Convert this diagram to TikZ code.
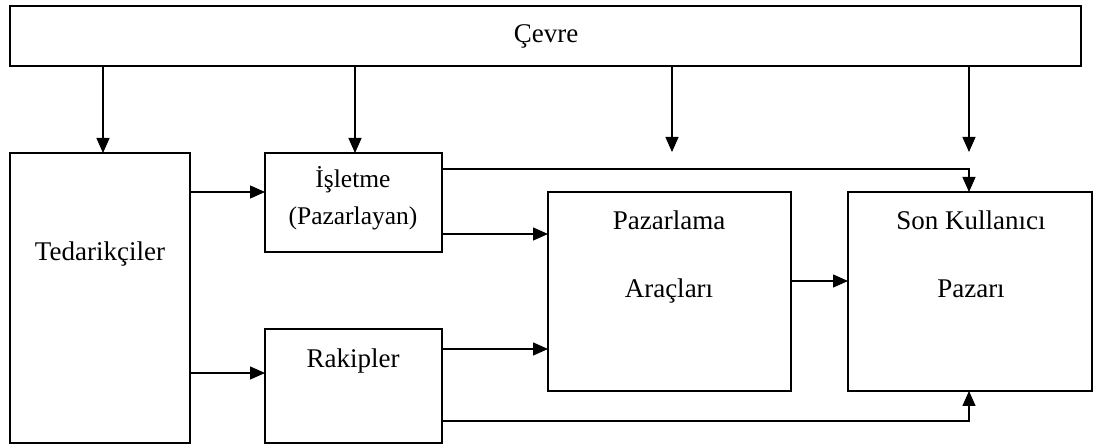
\documentclass[tikz,border=0pt]{standalone}
\usepackage{fontspec}
\setmainfont{Liberation Serif}
\usetikzlibrary{arrows.meta}
\begin{document}
\begin{tikzpicture}[x=1pt,y=-1pt,
  box/.style={draw, line width=1.4pt, inner sep=0pt, outer sep=0pt, anchor=north west},
  lbl/.style={inner sep=0pt, anchor=base, font=\fontsize{27}{32}\selectfont},
  lblsm/.style={inner sep=0pt, anchor=base, font=\fontsize{25.5}{30}\selectfont},
  arr/.style={line width=1.4pt, -{Triangle[length=15pt,width=13pt]}}]
\useasboundingbox (0,0) rectangle (1096,446);

% boxes
\node[box, minimum width=1071pt, minimum height=60pt] (cevre) at (10,6) {};
\node[box, minimum width=180pt, minimum height=290pt] (ted) at (10,153) {};
\node[box, minimum width=177pt, minimum height=99pt] (isl) at (265,153) {};
\node[box, minimum width=177pt, minimum height=114pt] (rak) at (265,329) {};
\node[box, minimum width=243pt, minimum height=199pt] (paz) at (548,192) {};
\node[box, minimum width=244pt, minimum height=199pt] (son) at (848,192) {};

% labels
\node[lbl] (tcevre) at (546,43) {Çevre};
\node[lbl] (tted) at (100,261) {Tedarikçiler};
\node[lblsm] (tisl1) at (353,188) {İşletme};
\node[lblsm] (tisl2) at (353,225) {(Pazarlayan)};
\node[lbl] (trak) at (353,368) {Rakipler};
\node[lbl] (tpaz1) at (669,230) {Pazarlama};
\node[lbl] (tpaz2) at (669,298) {Araçları};
\node[lbl] (tson1) at (971,230) {Son Kullanıcı};
\node[lbl] (tson2) at (971,298) {Pazarı};

% guide coordinates for the connectors
\coordinate (c1) at (103,0);
\coordinate (c2) at (355,0);
\coordinate (c3) at (672,152);
\coordinate (c4) at (969,152);
\coordinate (cx) at (969,0);
\coordinate (y1) at (0,192);
\coordinate (y2) at (0,373);
\coordinate (y3) at (0,234);
\coordinate (y4) at (0,349);
\coordinate (y5) at (0,169);
\coordinate (y6) at (0,421);
\coordinate (y7) at (0,281);

% environment arrows
\draw[arr] (cevre.south -| c1) -- (ted.north -| c1);
\draw[arr] (cevre.south -| c2) -- (isl.north -| c2);
\draw[arr] (cevre.south -| c3) -- (c3);
\draw[arr] (cevre.south -| c4) -- (c4);

% flows between the boxes
\draw[arr] (ted.east |- y1) -- (isl.west |- y1);
\draw[arr] (ted.east |- y2) -- (rak.west |- y2);
\draw[arr] (isl.east |- y3) -- (paz.west |- y3);
\draw[arr] (rak.east |- y4) -- (paz.west |- y4);
\draw[arr] (paz.east |- y7) -- (son.west |- y7);
\draw[arr] (isl.east |- y5) -- (cx |- y5) -- (son.north -| cx);
\draw[arr] (rak.east |- y6) -- (cx |- y6) -- (son.south -| cx);
\end{tikzpicture}
\end{document}
